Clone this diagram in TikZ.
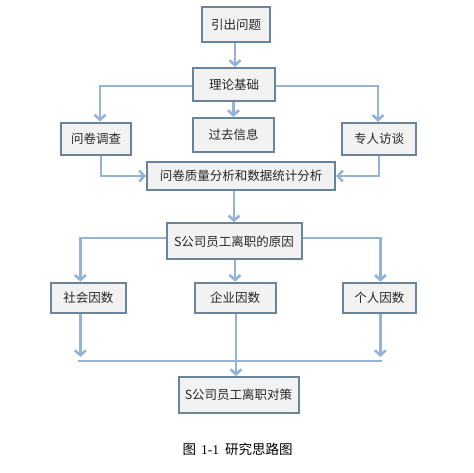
\documentclass[tikz,border=0pt]{standalone}
\usepackage{fontspec}
\setmainfont{Noto Sans CJK SC}
\newfontfamily\latinserif{Liberation Serif}
\usetikzlibrary{arrows.meta}
\definecolor{boxline}{HTML}{6C8499}
\definecolor{boxfill}{HTML}{F2F2F2}
\definecolor{arrcol}{HTML}{95B3D7}
\begin{document}
\begin{tikzpicture}[x=1pt,y=-1pt,
  box/.style={draw=boxline,fill=boxfill,line width=2pt,inner sep=0pt,
    font=\fontsize{12.5}{14}\selectfont,text=black!85},
  conn/.style={draw=arrcol,line width=2.8pt},
  arr/.style={conn,-{Straight Barb[length=5pt,width=11pt,line width=2.6pt]}}]
\useasboundingbox (0,0) rectangle (474,472);
\node[box,minimum width=68pt,minimum height=35pt] (q1) at (236,24.5) {引出问题};
\node[box,minimum width=82pt,minimum height=33pt] (t) at (234,84.5) {理论基础};
\node[box,minimum width=70pt,minimum height=32.5pt] (a) at (96,138.75) {问卷调查};
\node[box,minimum width=81pt,minimum height=34pt] (b) at (233.5,135) {过去信息};
\node[box,minimum width=74pt,minimum height=32.5pt] (c) at (379,139) {专人访谈};
\node[box,minimum width=188pt,minimum height=28.5pt] (d) at (241,176) {问卷质量分析和数据统计分析};
\node[box,minimum width=135pt,minimum height=36pt] (e) at (234,241.3) {S公司员工离职的原因};
\node[box,minimum width=75pt,minimum height=30.6pt] (f) at (88.4,298) {社会因数};
\node[box,minimum width=81pt,minimum height=30.6pt] (g) at (235,298) {企业因数};
\node[box,minimum width=73pt,minimum height=30.6pt] (h) at (379.4,298) {个人因数};
\node[box,minimum width=120pt,minimum height=36pt] (k) at (238.5,395) {S公司员工离职对策};
\node[font=\fontsize{13.5}{15}\selectfont,text=black] (cap) at (237.5,449) {图\hspace{5pt}{\latinserif 1-1}\hspace{6pt}研究思路图};
% connectors
\coordinate (ml) at (78,361);
\coordinate (mr) at (382,361);
\draw[arr] (q1.south -| 235,0) -- (235,0 |- t.north);
\draw[arr] (t.west |- 0,86) -| ([xshift=4pt]a.north);
\draw[arr] (t.east |- 0,86) -| ([xshift=-1pt]c.north);
\draw[arr] (t.south -| b.north) -- (b.north);
\draw[arr] ([xshift=5pt]a.south) |- (d.west);
\draw[arr] (c.south) |- (d.east);
\draw[arr] (e.north |- d.south) -- (e.north);
\draw[arr] (e.west |- 0,238) -| ([xshift=-8pt]f.north);
\draw[arr] (e.east |- 0,238) -| ([xshift=1pt]h.north);
\draw[arr] (e.south -| g.north) -- (g.north);
\draw[arr] ([xshift=-8pt]f.south) -- ([xshift=-8pt]f.south |- 0,357);
\draw[arr] ([xshift=1pt]h.south) -- ([xshift=1pt]h.south |- 0,357);
\draw[conn] (ml) -- (mr);
\draw[arr] ([xshift=1pt]g.south) -- ([xshift=1pt]g.south |- k.north);
\end{tikzpicture}
\end{document}
